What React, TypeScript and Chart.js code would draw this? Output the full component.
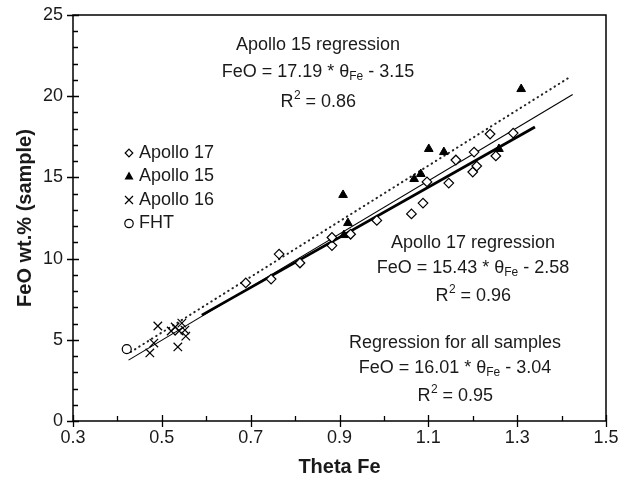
import React, { useEffect, useRef } from "react";
import { Chart, registerables } from "chart.js";
Chart.register(...registerables);

// ---- Data ----
const apollo17X = [0.689, 0.746, 0.764, 0.811, 0.883, 0.883, 0.925, 0.984, 1.062, 1.088, 1.097, 1.146, 1.162, 1.200, 1.203, 1.209, 1.239, 1.252, 1.291];
const apollo17Y = [8.5, 8.74, 10.28, 9.73, 10.8, 11.3, 11.5, 12.35, 12.75, 13.42, 14.72, 14.65, 16.07, 15.33, 16.56, 15.7, 17.67, 16.32, 17.73];

const apollo15X = [0.910, 0.919, 0.908, 1.068, 1.083, 1.101, 1.135, 1.259, 1.309];
const apollo15Y = [11.45, 12.19, 13.92, 14.9, 15.21, 16.75, 16.56, 16.75, 20.44];

const apollo16X = [0.473, 0.482, 0.491, 0.521, 0.530, 0.536, 0.539, 0.545, 0.552, 0.554];
const apollo16Y = [4.19, 4.8, 5.85, 5.54, 5.79, 4.56, 5.54, 6.03, 5.6, 5.23];

const fhtX = [0.421];
const fhtY = [4.43];

// regression line end points as drawn
const reg15X = [0.43, 1.42];
const reg15Y = [4.25, 21.2];
const regAllX = [0.425, 1.425];
const regAllY = [3.75, 20.1];
const reg17X = [0.59, 1.34];
const reg17Y = [6.52, 18.1];

const seriesLabels = ["Apollo 17", "Apollo 15", "Apollo 16", "FHT"];

const xTickValues = [0.3, 0.5, 0.7, 0.9, 1.1, 1.3, 1.5];
const yTickValues = [0, 5, 10, 15, 20, 25];
const xMinorStep = 0.1;
const yMinorStep = 1;

const xTitle = "Theta Fe";
const yTitle = "FeO wt.% (sample)";

const ann15 = ["Apollo 15 regression", ["FeO = 17.19 * θ", "Fe", " - 3.15"], ["R", "2", " = 0.86"]];
const ann17 = ["Apollo 17 regression", ["FeO = 15.43 * θ", "Fe", " - 2.58"], ["R", "2", " = 0.96"]];
const annAll = ["Regression for all samples", ["FeO = 16.01 * θ", "Fe", " - 3.04"], ["R", "2", " = 0.95"]];

const FONT = '"Liberation Sans", Arial, sans-serif';
const TXT = "#1a1a1a";

function pts(xs: number[], ys: number[]) {
  return xs.map((x, i) => ({ x, y: ys[i] }));
}

function drawComposite(ctx: CanvasRenderingContext2D, cx: number, cy: number, parts: string[], sup: boolean) {
  const big = `18px ${FONT}`;
  const small = `12px ${FONT}`;
  ctx.font = big;
  const w1 = ctx.measureText(parts[0]).width;
  const w3 = ctx.measureText(parts[2]).width;
  ctx.font = small;
  const w2 = ctx.measureText(parts[1]).width;
  const x0 = cx - (w1 + w2 + w3) / 2;
  ctx.textAlign = "left";
  ctx.textBaseline = "middle";
  ctx.font = big;
  ctx.fillText(parts[0], x0, cy);
  ctx.font = small;
  ctx.fillText(parts[1], x0 + w1 + (sup ? 0.5 : 0), sup ? cy - 6 : cy + 5);
  ctx.font = big;
  ctx.fillText(parts[2], x0 + w1 + w2 + (sup ? 0.5 : 0), cy);
}

function drawAnnotation(ctx: CanvasRenderingContext2D, ann: any[], cx: number, cy: number, dy: number) {
  ctx.fillStyle = TXT;
  ctx.font = `18px ${FONT}`;
  ctx.textAlign = "center";
  ctx.textBaseline = "middle";
  ctx.fillText(ann[0], cx, cy);
  drawComposite(ctx, cx, cy + dy, ann[1], false);
  drawComposite(ctx, cx, cy + dy * 2 + 3, ann[2], true);
}

function legendSymbol(ctx: CanvasRenderingContext2D, kind: number, x: number, y: number) {
  ctx.save();
  ctx.strokeStyle = "#000";
  ctx.fillStyle = "#000";
  ctx.lineWidth = 1.2;
  ctx.beginPath();
  if (kind === 0) {
    const r = 3.8;
    ctx.moveTo(x, y - r);
    ctx.lineTo(x + r, y);
    ctx.lineTo(x, y + r);
    ctx.lineTo(x - r, y);
    ctx.closePath();
    ctx.stroke();
  } else if (kind === 1) {
    const r = 5;
    ctx.moveTo(x, y - r);
    ctx.lineTo(x + r * 0.9, y + r * 0.6);
    ctx.lineTo(x - r * 0.9, y + r * 0.6);
    ctx.closePath();
    ctx.fill();
  } else if (kind === 2) {
    const r = 4;
    ctx.moveTo(x - r, y - r);
    ctx.lineTo(x + r, y + r);
    ctx.moveTo(x + r, y - r);
    ctx.lineTo(x - r, y + r);
    ctx.stroke();
  } else {
    ctx.arc(x, y, 4.2, 0, Math.PI * 2);
    ctx.stroke();
  }
  ctx.restore();
}

const decorPlugin = {
  id: "decor",
  afterDraw(chart: any) {
    const { ctx, chartArea: a, scales } = chart;
    const xs = scales.x;
    const ys = scales.y;
    ctx.save();
    ctx.strokeStyle = "#000";
    ctx.lineWidth = 1.5;
    ctx.strokeRect(a.left, a.top, a.right - a.left, a.bottom - a.top);
    ctx.lineWidth = 1.3;
    ctx.beginPath();
    // x ticks
    const nx = Math.round((xs.max - xs.min) / xMinorStep);
    for (let i = 0; i <= nx; i++) {
      const v = xs.min + i * xMinorStep;
      const px = Math.round(xs.getPixelForValue(v)) + 0.5;
      const major = xTickValues.some((t) => Math.abs(t - v) < 1e-6);
      ctx.moveTo(px, a.bottom + (major ? 6 : 0));
      ctx.lineTo(px, a.bottom - (major ? 6 : 5));
    }
    const ny = Math.round((ys.max - ys.min) / yMinorStep);
    for (let i = 0; i <= ny; i++) {
      const v = ys.min + i * yMinorStep;
      const py = Math.round(ys.getPixelForValue(v)) + 0.5;
      const major = yTickValues.some((t) => Math.abs(t - v) < 1e-6);
      ctx.moveTo(a.left - (major ? 6 : 0), py);
      ctx.lineTo(a.left + (major ? 6 : 5), py);
    }
    ctx.stroke();

    // legend
    ctx.fillStyle = TXT;
    ctx.font = `18px ${FONT}`;
    ctx.textAlign = "left";
    ctx.textBaseline = "middle";
    seriesLabels.forEach((lab, i) => {
      const yy = 153 + i * 23.5;
      legendSymbol(ctx, i, 129, yy);
      ctx.fillStyle = TXT;
      ctx.font = `18px ${FONT}`;
      ctx.fillText(lab, 139, yy);
    });

    // annotations
    drawAnnotation(ctx, ann15, 318, 45, 27);
    drawAnnotation(ctx, ann17, 473, 243, 25);
    drawAnnotation(ctx, annAll, 455, 343, 25);
    ctx.restore();
  },
};

export default function App() {
  const ref = useRef<HTMLCanvasElement>(null);
  useEffect(() => {
    if (!ref.current) return;
    const chart = new Chart(ref.current, {
      type: "scatter",
      data: {
        datasets: [
          {
            label: seriesLabels[0],
            data: pts(apollo17X, apollo17Y),
            pointStyle: "rectRot",
            pointRadius: 4.8,
            borderColor: "#000",
            backgroundColor: "#fff",
            borderWidth: 1.2,
          },
          {
            label: seriesLabels[1],
            data: pts(apollo15X, apollo15Y),
            pointStyle: "triangle",
            pointRadius: 5,
            borderColor: "#000",
            backgroundColor: "#000",
            borderWidth: 1,
          },
          {
            label: seriesLabels[2],
            data: pts(apollo16X, apollo16Y),
            pointStyle: "crossRot",
            pointRadius: 6,
            borderColor: "#000",
            backgroundColor: "#000",
            borderWidth: 1.2,
          },
          {
            label: seriesLabels[3],
            data: pts(fhtX, fhtY),
            pointStyle: "circle",
            pointRadius: 4.5,
            borderColor: "#000",
            backgroundColor: "#fff",
            borderWidth: 1.2,
          },
          {
            label: "Apollo 15 regression",
            data: pts(reg15X, reg15Y),
            showLine: true,
            pointRadius: 0,
            borderColor: "#222",
            borderWidth: 2,
            borderDash: [0.5, 4.5],
            borderCapStyle: "round",
          },
          {
            label: "Regression for all samples",
            data: pts(regAllX, regAllY),
            showLine: true,
            pointRadius: 0,
            borderColor: "#000",
            borderWidth: 1.1,
          },
          {
            label: "Apollo 17 regression",
            data: pts(reg17X, reg17Y),
            showLine: true,
            pointRadius: 0,
            borderColor: "#000",
            borderWidth: 2.8,
          },
        ],
      },
      options: {
        animation: false,
        responsive: true,
        maintainAspectRatio: false,
        layout: { padding: { top: 15, right: 14, left: 0, bottom: 0 } },
        plugins: { legend: { display: false }, tooltip: { enabled: false } },
        scales: {
          x: {
            type: "linear",
            min: 0.3,
            max: 1.5,
            afterBuildTicks: (s: any) => {
              s.ticks = xTickValues.map((v) => ({ value: v }));
            },
            afterFit: (s: any) => {
              s.height = 66;
              s.paddingLeft = 0;
              s.paddingRight = 0;
            },
            grid: { display: false, drawTicks: false },
            border: { display: false },
            ticks: {
              padding: 6,
              color: TXT,
              font: { family: FONT, size: 18 },
              callback: (v: any) => Number(v).toFixed(1),
              maxRotation: 0,
              autoSkip: false,
            },
            title: {
              display: true,
              text: xTitle,
              color: TXT,
              font: { family: FONT, size: 20, weight: "bold" },
              padding: { top: 0, bottom: 8 },
            },
          },
          y: {
            type: "linear",
            min: 0,
            max: 25,
            afterBuildTicks: (s: any) => {
              s.ticks = yTickValues.map((v) => ({ value: v }));
            },
            afterFit: (s: any) => {
              s.width = 73;
              s.paddingTop = 0;
              s.paddingBottom = 0;
            },
            grid: { display: false, drawTicks: false },
            border: { display: false },
            ticks: {
              padding: 10,
              color: TXT,
              font: { family: FONT, size: 18 },
              autoSkip: false,
            },
            title: {
              display: true,
              text: yTitle,
              color: TXT,
              font: { family: FONT, size: 20, weight: "bold" },
              padding: { top: 13, bottom: 0 },
            },
          },
        },
      },
      plugins: [decorPlugin],
    } as any);
    return () => chart.destroy();
  }, []);
  return (
    <div style={{ position: "fixed", left: 0, top: 0, width: 620, height: 487, background: "#fff" }}>
      <canvas ref={ref} />
    </div>
  );
}
